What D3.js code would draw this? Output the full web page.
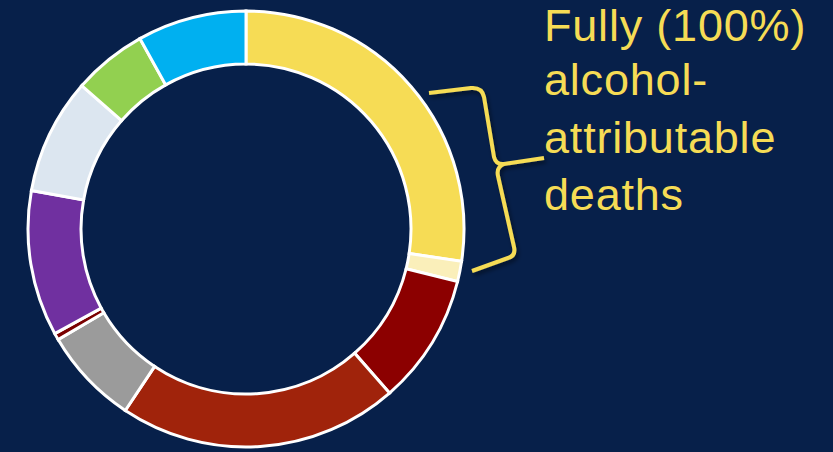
<!DOCTYPE html>
<html>
<head>
<meta charset="utf-8">
<script src="https://cdn.jsdelivr.net/npm/d3@7/dist/d3.min.js"></script>
<style>
  html, body { margin: 0; padding: 0; background: #07204A; }
  svg { display: block; }
</style>
</head>
<body>
<svg id="chart" width="833" height="452"></svg>
<script>
// Data (share of deaths, %), clockwise from 12 o'clock
const categories = [
  "Fully alcohol-attributable A",
  "Fully alcohol-attributable B",
  "Category 3",
  "Category 4",
  "Category 5",
  "Category 6",
  "Category 7",
  "Category 8",
  "Category 9",
  "Category 10"
];
const values = [27.4, 1.5, 9.7, 20.8, 7.2, 0.5, 10.8, 8.6, 5.5, 8.1];
const colors = ["#F6DC55", "#FAEFBA", "#8C0000", "#A0230B", "#9B9B9B",
                "#7A0000", "#7030A0", "#DCE6F0", "#92D050", "#00B0F0"];
const labelLines = ["Fully (100%)", "alcohol-", "attributable", "deaths"];

const svg = d3.select("#chart");
const W = 833, H = 452;
svg.append("rect").attr("width", W).attr("height", H).attr("fill", "#07204A");

const defs = svg.append("defs");
const sh = defs.append("filter").attr("id", "shadow")
  .attr("x", "-20%").attr("y", "-20%").attr("width", "140%").attr("height", "140%");
sh.append("feDropShadow").attr("dx", 2).attr("dy", 3).attr("stdDeviation", 2)
  .attr("flood-color", "#000").attr("flood-opacity", 0.45);

const cx = 246, cy = 229, R = 218, r = 165;

const pie = d3.pie().sort(null).value(d => d).startAngle(0).endAngle(2 * Math.PI);
const arc = d3.arc().innerRadius(r).outerRadius(R);

const g = svg.append("g").attr("transform", `translate(${cx},${cy})`);
g.selectAll("path.slice")
  .data(pie(values))
  .join("path")
  .attr("class", "slice")
  .attr("d", arc)
  .attr("fill", (d, i) => colors[i])
  .attr("stroke", "#FFFFFF")
  .attr("stroke-width", 3)
  .attr("stroke-linejoin", "miter");

// Curly brace annotation
svg.append("path")
  .attr("d", "M429,93 L471,88 Q482,87 484,97 L494,157 Q496,165 504,164 L544,158 M504,164 Q496,167 498,176 L514,247 Q516,256 508,258 L472,271")
  .attr("fill", "none")
  .attr("stroke", "#F6DC55")
  .attr("stroke-width", 4)
  .attr("stroke-linecap", "butt")
  .attr("stroke-linejoin", "round")
  .attr("filter", "url(#shadow)");

// Label text
const baselines = [41, 95, 153, 210];
const txt = svg.append("text")
  .attr("font-family", "'Liberation Sans', Arial, sans-serif")
  .attr("font-size", 45)
  .attr("letter-spacing", 0.8)
  .attr("fill", "#F6DC55");
labelLines.forEach((t, i) => {
  txt.append("tspan").attr("x", 544).attr("y", baselines[i]).text(t);
});
</script>
</body>
</html>
